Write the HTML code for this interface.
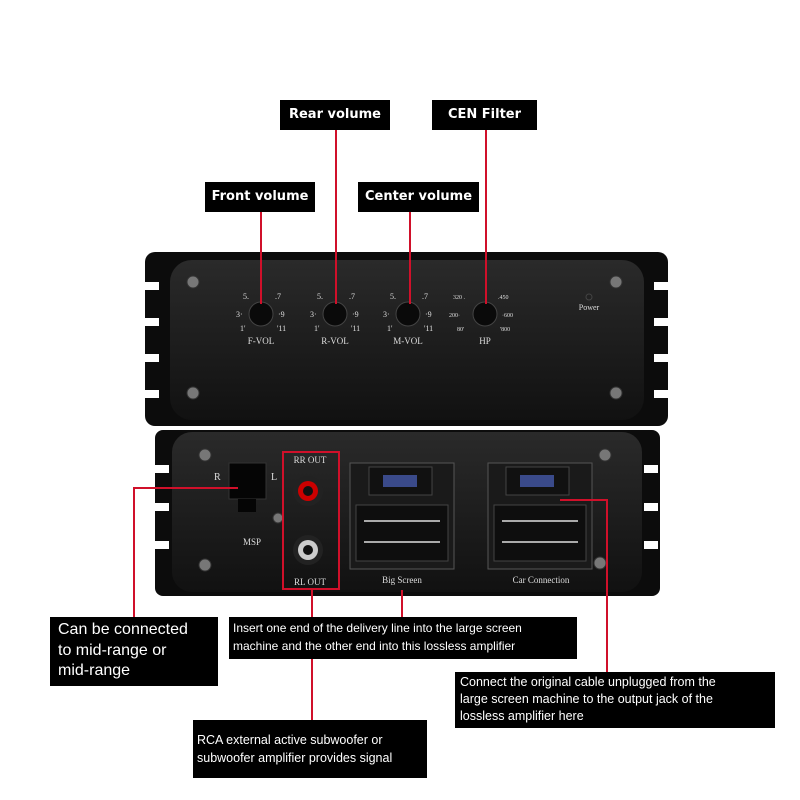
<!DOCTYPE html>
<html><head><meta charset="utf-8"><style>
html,body{margin:0;padding:0;background:#fff;}
.lbl{position:absolute;background:#000;color:#fff;font-family:"Liberation Sans Narrow","Liberation Sans",sans-serif;white-space:nowrap;box-sizing:border-box;}
.hd{font-family:"DejaVu Sans",sans-serif;font-weight:bold;font-size:13px;text-align:center;height:30px;line-height:30px;}
</style></head><body>
<div style="position:relative;width:800px;height:800px;overflow:hidden;">
<svg width="800" height="800" style="position:absolute;left:0;top:0" font-family="Liberation Serif">
<defs>
<linearGradient id="g1" x1="0" y1="0" x2="0" y2="1"><stop offset="0" stop-color="#2a2a2a"/><stop offset="1" stop-color="#111"/></linearGradient>
</defs>
<rect x="145" y="252" width="523" height="174" rx="10" fill="#0c0c0c"/>
<g fill="#fff"><rect x="145" y="282" width="14" height="8"/><rect x="145" y="318" width="14" height="8"/><rect x="145" y="354" width="14" height="8"/><rect x="145" y="390" width="14" height="8"/>
<rect x="654" y="282" width="14" height="8"/><rect x="654" y="318" width="14" height="8"/><rect x="654" y="354" width="14" height="8"/><rect x="654" y="390" width="14" height="8"/></g>
<rect x="170" y="260" width="474" height="160" rx="22" fill="url(#g1)"/>
<g fill="#777" stroke="#333"><circle cx="193" cy="282" r="6"/><circle cx="616" cy="282" r="6"/><circle cx="193" cy="393" r="6"/><circle cx="616" cy="393" r="6"/></g>
<g fill="#0a0a0a" stroke="#444"><circle cx="261" cy="314" r="12"/><circle cx="335" cy="314" r="12"/><circle cx="408" cy="314" r="12"/><circle cx="485" cy="314" r="12"/></g>
<g fill="#ddd" font-size="8">
<text x="243" y="299">5.</text><text x="275" y="299">.7</text><text x="236" y="317">3·</text><text x="278" y="317">·9</text><text x="240" y="331">1'</text><text x="277" y="331">'11</text>
<text x="317" y="299">5.</text><text x="349" y="299">.7</text><text x="310" y="317">3·</text><text x="352" y="317">·9</text><text x="314" y="331">1'</text><text x="351" y="331">'11</text>
<text x="390" y="299">5.</text><text x="422" y="299">.7</text><text x="383" y="317">3·</text><text x="425" y="317">·9</text><text x="387" y="331">1'</text><text x="424" y="331">'11</text>
<text x="453" y="299" font-size="6">320 .</text><text x="498" y="299" font-size="6">.450</text><text x="449" y="317" font-size="6">200·</text><text x="502" y="317" font-size="6">·600</text><text x="457" y="331" font-size="6">80'</text><text x="500" y="331" font-size="6">'800</text>
<text x="261" y="344" text-anchor="middle" font-size="9">F-VOL</text><text x="335" y="344" text-anchor="middle" font-size="9">R-VOL</text><text x="408" y="344" text-anchor="middle" font-size="9">M-VOL</text><text x="485" y="344" text-anchor="middle" font-size="9">HP</text>
<text x="589" y="310" text-anchor="middle" font-size="8">Power</text></g>
<circle cx="589" cy="297" r="3" fill="#222" stroke="#444"/>
<rect x="155" y="430" width="505" height="166" rx="8" fill="#0c0c0c"/>
<g fill="#fff"><rect x="155" y="465" width="14" height="8"/><rect x="155" y="503" width="14" height="8"/><rect x="155" y="541" width="14" height="8"/>
<rect x="644" y="465" width="14" height="8"/><rect x="644" y="503" width="14" height="8"/><rect x="644" y="541" width="14" height="8"/></g>
<rect x="172" y="432" width="470" height="160" rx="20" fill="url(#g1)"/>
<g fill="#777" stroke="#333"><circle cx="205" cy="455" r="6"/><circle cx="605" cy="455" r="6"/><circle cx="205" cy="565" r="6"/><circle cx="600" cy="563" r="6"/><circle cx="278" cy="518" r="5"/></g>
<rect x="229" y="463" width="37" height="36" fill="#050505" stroke="#333"/><rect x="238" y="499" width="18" height="13" fill="#050505"/>
<g fill="#ddd" font-size="10"><text x="214" y="480">R</text><text x="271" y="480">L</text><text x="252" y="545" text-anchor="middle" font-size="9">MSP</text>
<text x="310" y="463" text-anchor="middle" font-size="9">RR OUT</text><text x="310" y="585" text-anchor="middle" font-size="9">RL OUT</text>
<text x="402" y="583" text-anchor="middle" font-size="9">Big Screen</text><text x="541" y="583" text-anchor="middle" font-size="9">Car Connection</text></g>
<circle cx="308" cy="491" r="15" fill="#222"/><circle cx="308" cy="491" r="10" fill="#c00"/><circle cx="308" cy="491" r="5" fill="#111"/>
<circle cx="308" cy="550" r="15" fill="#222"/><circle cx="308" cy="550" r="10" fill="#ccc"/><circle cx="308" cy="550" r="5" fill="#111"/>
<rect x="350" y="463" width="104" height="106" fill="#1a1a1a" stroke="#555"/><rect x="369" y="467" width="63" height="28" fill="#111" stroke="#444"/><rect x="383" y="475" width="34" height="12" fill="#3a4a8a"/>
<rect x="356" y="505" width="92" height="56" fill="#0e0e0e" stroke="#444"/>
<rect x="488" y="463" width="104" height="106" fill="#1a1a1a" stroke="#555"/><rect x="506" y="467" width="63" height="28" fill="#111" stroke="#444"/><rect x="520" y="475" width="34" height="12" fill="#3a4a8a"/>
<rect x="494" y="505" width="92" height="56" fill="#0e0e0e" stroke="#444"/>
<g fill="#aaa"><rect x="364" y="520" width="76" height="2"/><rect x="364" y="541" width="76" height="2"/><rect x="502" y="520" width="76" height="2"/><rect x="502" y="541" width="76" height="2"/></g>
<g stroke="#d0102a" stroke-width="2" fill="none">
<line x1="261" y1="212" x2="261" y2="304"/><line x1="336" y1="130" x2="336" y2="304"/><line x1="410" y1="212" x2="410" y2="304"/><line x1="486" y1="130" x2="486" y2="304"/>
<rect x="283" y="452" width="56" height="137"/>
<line x1="312" y1="589" x2="312" y2="720"/><line x1="402" y1="590" x2="402" y2="617"/>
<polyline points="238,488 134,488 134,618"/><polyline points="560,500 607,500 607,672"/>
</g>
</svg>
<div class="lbl hd" style="left:280px;top:100px;width:110px;">Rear volume</div>
<div class="lbl hd" style="left:432px;top:100px;width:105px;">CEN Filter</div>
<div class="lbl hd" style="left:205px;top:182px;width:110px;">Front volume</div>
<div class="lbl hd" style="left:358px;top:182px;width:121px;">Center volume</div>
<div class="lbl" style="left:50px;top:617px;width:168px;height:69px;padding:3px 0 0 8px;font-size:16px;line-height:20.5px">Can be connected<br>to mid-range or<br>mid-range</div>
<div class="lbl" style="left:229px;top:617px;width:348px;height:42px;padding:2px 0 0 4px;font-size:12px;line-height:18px">Insert one end of the delivery line into the large screen<br>machine and the other end into this lossless amplifier</div>
<div class="lbl" style="left:455px;top:672px;width:320px;height:56px;padding:2px 0 0 5px;font-size:12.5px;line-height:17px">Connect the original cable unplugged from the<br>large screen machine to the output jack of the<br>lossless amplifier here</div>
<div class="lbl" style="left:193px;top:720px;width:234px;height:58px;padding:11px 0 0 4px;font-size:12.5px;line-height:18px">RCA external active subwoofer or<br>subwoofer amplifier provides signal</div>
</div>
</body></html>
